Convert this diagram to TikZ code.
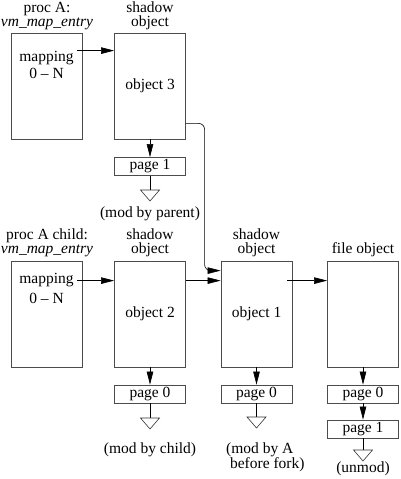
\documentclass[tikz,border=0pt]{standalone}
\usepackage{fontspec}
\setmainfont{Liberation Serif}
\usetikzlibrary{arrows.meta,calc}

\begin{document}
\begin{tikzpicture}[
  x=1pt, y=-1pt,
  font=\fontsize{15.5}{14}\selectfont,
  box/.style={draw=black!70, line width=0.8pt, minimum width=71pt, minimum height=106pt, inner sep=0pt},
  pg/.style={draw=black!70, line width=0.8pt, minimum width=71pt, minimum height=18pt, inner sep=0pt},
  lbl/.style={align=center, inner sep=0pt},
  arr/.style={-{Triangle[length=13pt, width=6.5pt]}, line width=0.6pt},
  wire/.style={line width=0.6pt},
  gtri/.style={draw=black!80, line width=0.6pt},
]
\useasboundingbox (0,0) rectangle (400,479);

% ---------------- proc A ----------------
\node[lbl] (hA) at (47,16) {proc A:\\\textit{vm\_map\_entry}};
\node[box] (mapA) at (46.5,86) {};
\node[lbl, text height=10pt, text depth=3pt] (mapAt) at (46.5,75) {mapping\\[3pt]0 -- N};
\node[lbl] (h3) at (150,16) {shadow\\object};
\node[box] (obj3) at (150,86) {object 3};
\node[pg] (p31) at (150,166.5) {page 1};
\coordinate (g3) at (150,190);
\node[lbl] (n3) at (150,214) {(mod by parent)};

% ---------------- proc A child ----------------
\node[lbl] (hB) at (47,243) {proc A child:\\\textit{vm\_map\_entry}};
\node[box] (mapB) at (46.5,314) {};
\node[lbl, text height=10pt, text depth=3pt] (mapBt) at (46.5,300) {mapping\\[6pt]0 -- N};
\node[lbl] (h2) at (150,243) {shadow\\object};
\node[box] (obj2) at (150,314) {object 2};
\node[pg] (p20) at (150,394) {page 0};
\coordinate (g2) at (150,418);
\node[lbl] (n2) at (150,450) {(mod by child)};

% ---------------- object 1 and the file ----------------
\node[lbl] (h1) at (256.5,243) {shadow\\object};
\node[box] (obj1) at (256.5,314) {object 1};
\node[pg] (p10) at (256.5,394) {page 0};
\coordinate (g1) at (256.5,417);
\node[lbl, align=left, anchor=west] (n1) at (226,457.5) {(mod by A\\\ before fork)};
\node[lbl] (hf) at (363,250) {file object};
\node[box] (fobj) at (363,314) {};
\node[pg] (pf0) at (363,394) {page 0};
\node[pg] (pf1) at (363,429) {page 1};
\coordinate (gf) at (363,450);
\node[lbl] (nf) at (363,469) {(unmod)};

% ---------------- the links ----------------
\draw[arr] ([shift={(-5,18)}]mapA.north east) -- ([shift={(0,18)}]obj3.north west);
\draw[arr] ([shift={(-5,20)}]mapB.north east) -- ([shift={(0,20)}]obj2.north west);
\draw[arr] ([shift={(0,20)}]obj2.north east) -- ([shift={(0,20)}]obj1.north west);
\draw[arr] ([shift={(-5,20)}]obj1.north east) -- ([shift={(0,20)}]fobj.north west);
\draw[arr, rounded corners=6] ([shift={(0,-16)}]obj3.south east) -| ([shift={(-16,10)}]obj1.north west) -- ([shift={(0,10)}]obj1.north west);
\draw[arr] (obj3) -- (p31);
\draw[arr] (obj2) -- (p20);
\draw[arr] (obj1) -- (p10);
\draw[arr] (fobj) -- (pf0);
\draw[arr] (pf0) -- (pf1);
\draw[wire] (p31) -- (g3);
\draw[wire] (p20) -- (g2);
\draw[wire] (p10) -- (g1);
\draw[wire] (pf1) -- (gf);

% the open triangles
\foreach \g in {g3,g2,g1,gf}
  \draw[gtri] ($(\g)+(-9.5,0)$) -- ($(\g)+(9.5,0)$) -- ($(\g)+(0,11)$) -- cycle;

\end{tikzpicture}
\end{document}
